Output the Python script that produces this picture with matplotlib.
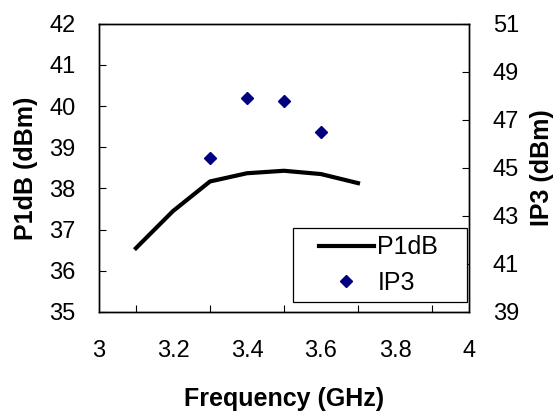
import matplotlib
matplotlib.use("Agg")
import matplotlib.pyplot as plt
from matplotlib.ticker import MultipleLocator
from matplotlib.patches import Rectangle

plt.rcParams['font.family'] = ['Liberation Sans', 'DejaVu Sans']

freq_p1db = [3.1, 3.2, 3.3, 3.4, 3.5, 3.6, 3.7]
p1db = [36.55, 37.45, 38.17, 38.37, 38.43, 38.35, 38.13]
freq_ip3 = [3.3, 3.4, 3.5, 3.6]
ip3 = [45.4, 47.9, 47.8, 46.5]
left_ticks = [35, 36, 37, 38, 39, 40, 41, 42]
right_ticks = [39, 41, 43, 45, 47, 49, 51]
x_ticks = [3, 3.2, 3.4, 3.6, 3.8, 4]

fig = plt.figure(figsize=(5.59, 4.11), dpi=100)
ax = fig.add_axes([0.177, 0.241, 0.662, 0.701])
ax2 = ax.twinx()

l1, = ax.plot(freq_p1db, p1db, color='black', lw=3.0, label='P1dB')
l2, = ax2.plot(freq_ip3, ip3, linestyle='none', marker='D', markersize=6.5,
               color='#000080', label='IP3')

ax.set_xlim(3, 4)
ax.set_ylim(35, 42)
ax2.set_ylim(39, 51)
ax.set_xticks(x_ticks)
ax.set_xticklabels([f"{v:g}" for v in x_ticks])
ax.xaxis.set_minor_locator(MultipleLocator(0.1))
ax.set_yticks(left_ticks)
ax2.set_yticks(right_ticks)

for a in (ax, ax2):
    a.tick_params(direction='in', labelsize=17, length=5, width=0.8)
    for s in a.spines.values():
        s.set_linewidth(1.0)
ax.tick_params(axis='y', pad=17)
ax2.tick_params(axis='y', pad=17)
ax.tick_params(axis='x', which='major', length=0, pad=20)
ax.tick_params(axis='x', which='minor', direction='in', length=5, width=0.8)

ax.set_xlabel('Frequency (GHz)', fontsize=18, fontweight='bold', labelpad=18)
ax.set_ylabel('P1dB (dBm)', fontsize=18, fontweight='bold', labelpad=8)
ax2.set_ylabel('IP3 (dBm)', fontsize=18, fontweight='bold', labelpad=8)

# legend frame
frame = Rectangle((0.524, 0.035), 0.470, 0.257, transform=ax.transAxes,
                  facecolor='white', edgecolor='black', lw=0.9, zorder=4)
ax2.add_patch(frame)
leg = ax2.legend([l1, l2], ['P1dB', 'IP3'], loc='center',
                 bbox_to_anchor=(0.755, 0.163), fontsize=18,
                 frameon=False, borderaxespad=0, handlelength=2.2,
                 handletextpad=0.15, labelspacing=0.45, borderpad=0)
leg.set_zorder(5)

fig.savefig('out.png', dpi=100)
